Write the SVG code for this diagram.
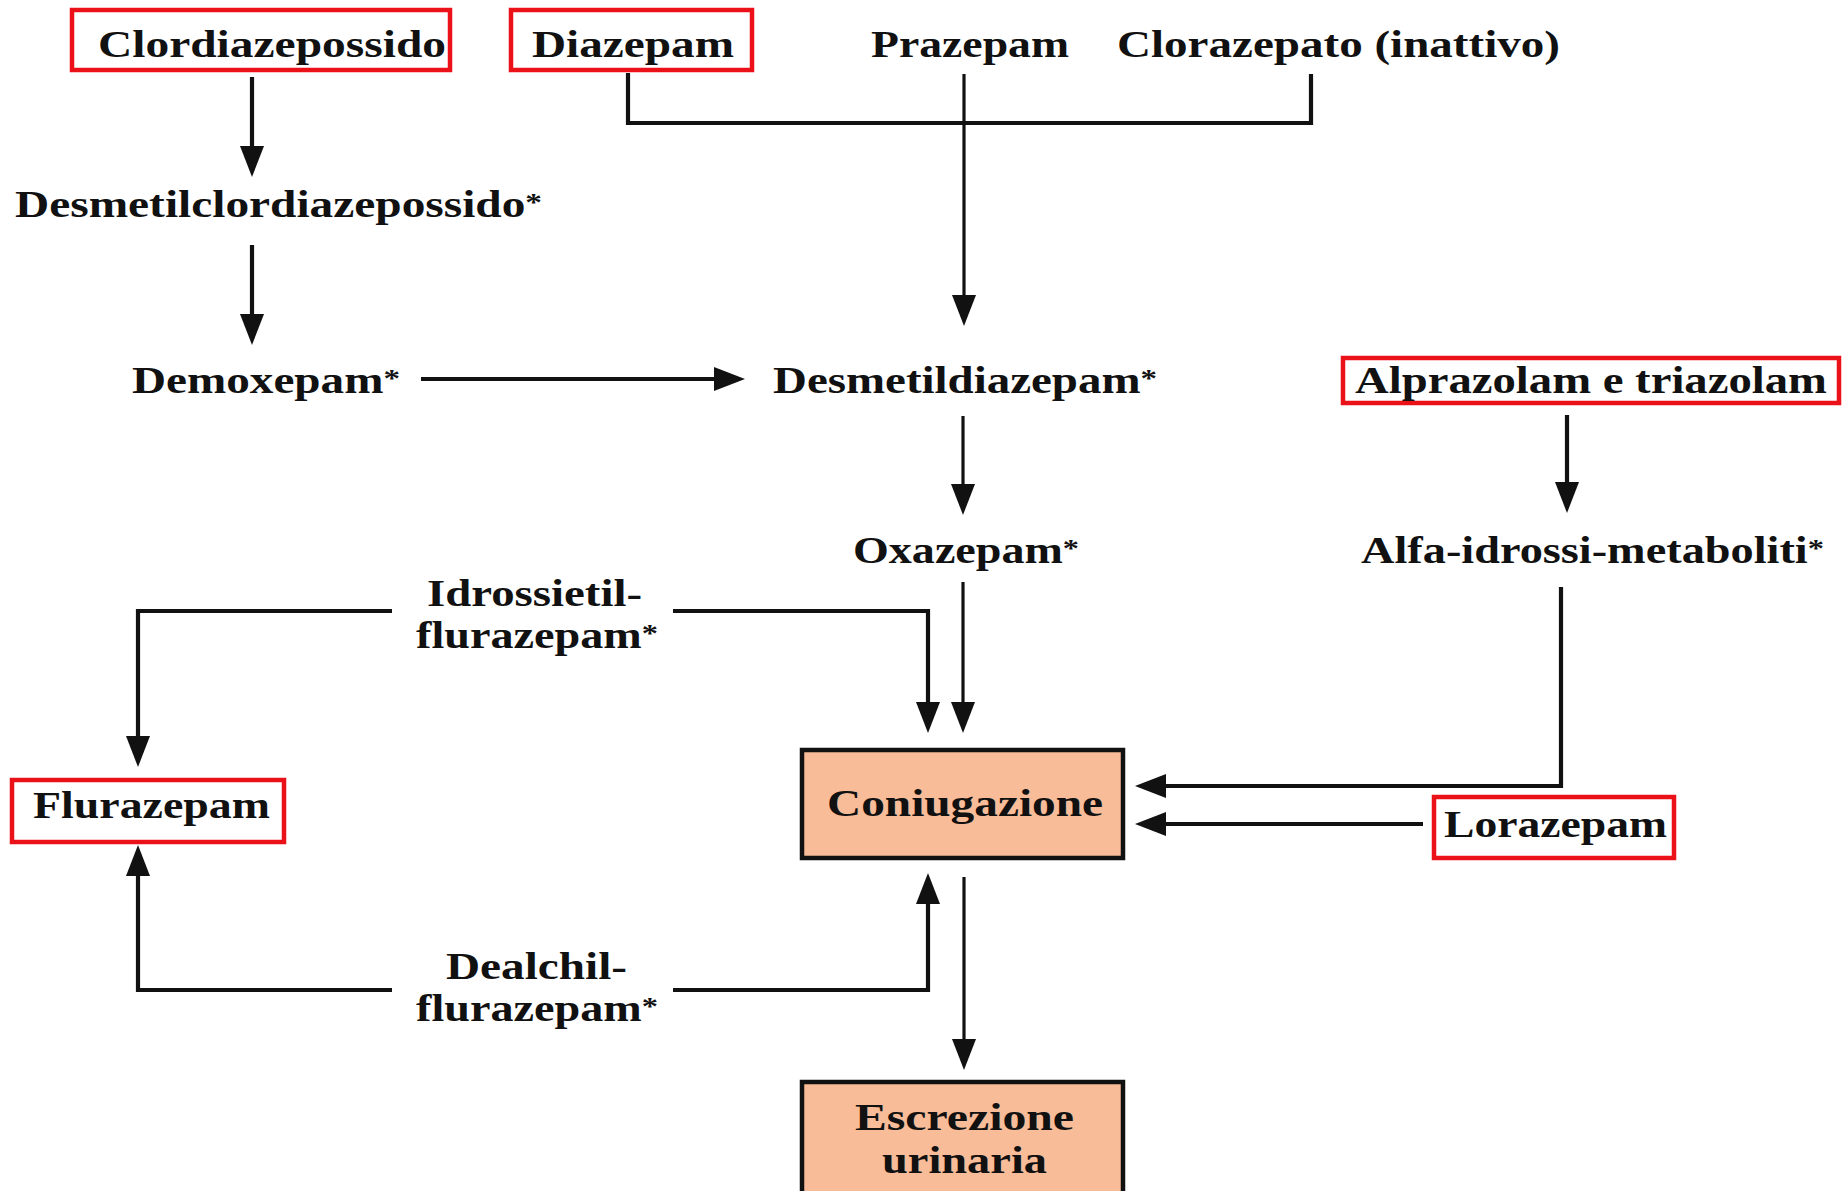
<svg xmlns="http://www.w3.org/2000/svg" width="1843" height="1191" viewBox="0 0 1843 1191">
<style>
  text { font-family: "Liberation Serif", "Times New Roman", serif; font-weight: bold; font-size: 37px; fill: #111; }
  .ast { font-size: 26px; }
  .red { fill: none; stroke: #ea1119; stroke-width: 4.5; }
  .proc { fill: #f8bc98; stroke: #111; stroke-width: 4.5; }
  .line { fill: none; stroke: #111; stroke-width: 4.2; }
  .thin { fill: none; stroke: #111; stroke-width: 3.2; }
  .arr { marker-end: url(#ah); }
</style>
<defs>
  <marker id="ah" markerUnits="userSpaceOnUse" markerWidth="31" markerHeight="25" refX="25" refY="12" orient="auto">
    <path d="M0,0 L31,12 L0,24 Z" fill="#111"/>
  </marker>
</defs>
<rect width="1843" height="1191" fill="#fff"/>

<g id="connectors">
  <path class="line arr" d="M252,77 V171"/>
  <path class="line arr" d="M252,245 V339"/>
  <path class="line arr" d="M421,379 H739"/>
  <path class="line" d="M628,73 V123 H1311 V74"/>
  <path class="thin arr" d="M964,74 V320"/>
  <path class="thin arr" d="M963,416 V509"/>
  <path class="line arr" d="M1567,415 V507"/>
  <path class="line arr" d="M1561,587 V786 H1141"/>
  <path class="line arr" d="M1423,824 H1141"/>
  <path class="thin arr" d="M963,582 V727"/>
  <path class="line arr" d="M673,611 H928 V727"/>
  <path class="line arr" d="M392,611 H138 V761"/>
  <path class="line arr" d="M392,990 H138 V851"/>
  <path class="line arr" d="M673,990 H928 V879"/>
  <path class="thin arr" d="M964,877 V1064"/>
</g>

<g id="clordiazepossido">
  <rect class="red" x="72" y="10" width="378" height="60"/>
  <text x="98" y="57" textLength="348" lengthAdjust="spacingAndGlyphs">Clordiazepossido</text>
</g>
<g id="diazepam">
  <rect class="red" x="511" y="10" width="241" height="60"/>
  <text x="532" y="57" textLength="202" lengthAdjust="spacingAndGlyphs">Diazepam</text>
</g>
<g id="prazepam">
  <text x="871" y="57" textLength="198" lengthAdjust="spacingAndGlyphs">Prazepam</text>
</g>
<g id="clorazepato">
  <text x="1117" y="57" textLength="443" lengthAdjust="spacingAndGlyphs">Clorazepato (inattivo)</text>
</g>
<g id="desmetilclordiazepossido">
  <text x="15" y="217" textLength="527" lengthAdjust="spacingAndGlyphs">Desmetilclordiazepossido<tspan class="ast" dy="-6">*</tspan></text>
</g>
<g id="demoxepam">
  <text x="132" y="393" textLength="268" lengthAdjust="spacingAndGlyphs">Demoxepam<tspan class="ast" dy="-6">*</tspan></text>
</g>
<g id="desmetildiazepam">
  <text x="773" y="393" textLength="384" lengthAdjust="spacingAndGlyphs">Desmetildiazepam<tspan class="ast" dy="-6">*</tspan></text>
</g>
<g id="alprazolam">
  <rect class="red" x="1343" y="358" width="496" height="45"/>
  <text x="1355" y="393" textLength="472" lengthAdjust="spacingAndGlyphs">Alprazolam e triazolam</text>
</g>
<g id="oxazepam">
  <text x="853" y="563" textLength="226" lengthAdjust="spacingAndGlyphs">Oxazepam<tspan class="ast" dy="-6">*</tspan></text>
</g>
<g id="alfa-idrossi">
  <text x="1361" y="563" textLength="463" lengthAdjust="spacingAndGlyphs">Alfa-idrossi-metaboliti<tspan class="ast" dy="-6">*</tspan></text>
</g>
<g id="idrossietil">
  <text x="427" y="606" textLength="215" lengthAdjust="spacingAndGlyphs">Idrossietil-</text>
  <text x="416" y="648" textLength="242" lengthAdjust="spacingAndGlyphs">flurazepam<tspan class="ast" dy="-6">*</tspan></text>
</g>
<g id="flurazepam">
  <rect class="red" x="12" y="780" width="272" height="62"/>
  <text x="33" y="818" textLength="237" lengthAdjust="spacingAndGlyphs">Flurazepam</text>
</g>
<g id="coniugazione">
  <rect class="proc" x="802" y="750" width="321" height="108"/>
  <text x="827" y="816" textLength="276" lengthAdjust="spacingAndGlyphs">Coniugazione</text>
</g>
<g id="lorazepam">
  <rect class="red" x="1434" y="797" width="240" height="61"/>
  <text x="1444" y="837" textLength="223" lengthAdjust="spacingAndGlyphs">Lorazepam</text>
</g>
<g id="dealchil">
  <text x="446" y="979" textLength="181" lengthAdjust="spacingAndGlyphs">Dealchil-</text>
  <text x="416" y="1021" textLength="242" lengthAdjust="spacingAndGlyphs">flurazepam<tspan class="ast" dy="-6">*</tspan></text>
</g>
<g id="escrezione">
  <rect class="proc" x="802" y="1082" width="321" height="120"/>
  <text x="855" y="1130" textLength="219" lengthAdjust="spacingAndGlyphs">Escrezione</text>
  <text x="882" y="1173" textLength="165" lengthAdjust="spacingAndGlyphs">urinaria</text>
</g>
</svg>
